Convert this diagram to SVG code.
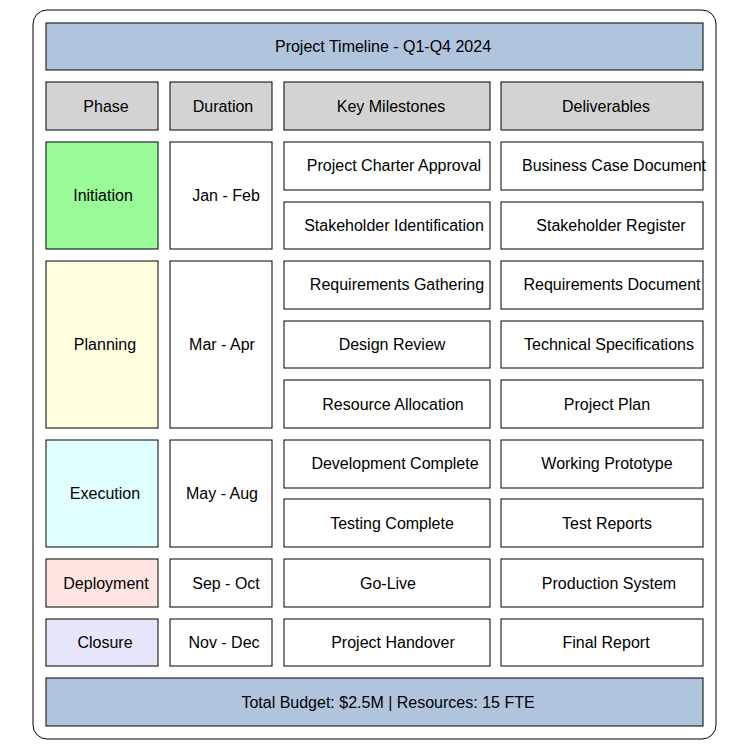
<svg xmlns="http://www.w3.org/2000/svg" width="750" height="750" viewBox="0 0 750 750">
<style>
rect{stroke:#000;stroke-width:1}
text{font-family:"Liberation Sans",Arial,sans-serif;font-size:16px;text-anchor:middle;dominant-baseline:central;fill:#000}
.w{fill:#fff}.h{fill:#d3d3d3}.b{fill:#b0c4de}
</style>
<rect x="33" y="10" width="683" height="729" rx="14" fill="#fff"/>
<g id="title"><rect class="b" x="46" y="23" width="657" height="47"/><text x="383" y="46">Project Timeline - Q1-Q4 2024</text></g>
<g id="headers">
<rect class="h" x="46" y="82" width="112" height="48"/><text x="106" y="106">Phase</text>
<rect class="h" x="170" y="82" width="102" height="48"/><text x="223" y="106">Duration</text>
<rect class="h" x="284" y="82" width="206" height="48"/><text x="391" y="106">Key Milestones</text>
<rect class="h" x="501" y="82" width="202" height="48"/><text x="606" y="106">Deliverables</text>
</g>
<g id="phases">
<rect x="46" y="142" width="112" height="107" fill="#98fb98"/><text x="103" y="195">Initiation</text>
<rect x="46" y="261" width="112" height="167" fill="#ffffe0"/><text x="105" y="344">Planning</text>
<rect x="46" y="440" width="112" height="107" fill="#e0ffff"/><text x="105" y="493">Execution</text>
<rect x="46" y="559" width="112" height="48" fill="#ffe4e1"/><text x="106" y="583">Deployment</text>
<rect x="46" y="619" width="112" height="47" fill="#e6e6fa"/><text x="105" y="642">Closure</text>
</g>
<g id="durations">
<rect class="w" x="170" y="142" width="102" height="107"/><text x="226" y="195">Jan - Feb</text>
<rect class="w" x="170" y="261" width="102" height="167"/><text x="222" y="344">Mar - Apr</text>
<rect class="w" x="170" y="440" width="102" height="107"/><text x="222" y="493">May - Aug</text>
<rect class="w" x="170" y="559" width="102" height="48"/><text x="226" y="583">Sep - Oct</text>
<rect class="w" x="170" y="619" width="102" height="47"/><text x="224" y="642">Nov - Dec</text>
</g>
<g id="milestones">
<rect class="w" x="284" y="142" width="206" height="48"/><text x="394" y="165">Project Charter Approval</text>
<rect class="w" x="284" y="202" width="206" height="47"/><text x="394" y="225">Stakeholder Identification</text>
<rect class="w" x="284" y="261" width="206" height="48"/><text x="397" y="284">Requirements Gathering</text>
<rect class="w" x="284" y="321" width="206" height="47"/><text x="392" y="344">Design Review</text>
<rect class="w" x="284" y="380" width="206" height="48"/><text x="393" y="404">Resource Allocation</text>
<rect class="w" x="284" y="440" width="206" height="48"/><text x="395" y="463">Development Complete</text>
<rect class="w" x="284" y="499" width="206" height="48"/><text x="392" y="523">Testing Complete</text>
<rect class="w" x="284" y="559" width="206" height="48"/><text x="388" y="583">Go-Live</text>
<rect class="w" x="284" y="619" width="206" height="47"/><text x="393" y="642">Project Handover</text>
</g>
<g id="deliverables">
<rect class="w" x="501" y="142" width="202" height="48"/><text x="614" y="165">Business Case Document</text>
<rect class="w" x="501" y="202" width="202" height="47"/><text x="611" y="225">Stakeholder Register</text>
<rect class="w" x="501" y="261" width="202" height="48"/><text x="612" y="284">Requirements Document</text>
<rect class="w" x="501" y="321" width="202" height="47"/><text x="609" y="344">Technical Specifications</text>
<rect class="w" x="501" y="380" width="202" height="48"/><text x="607" y="404">Project Plan</text>
<rect class="w" x="501" y="440" width="202" height="48"/><text x="607" y="463">Working Prototype</text>
<rect class="w" x="501" y="499" width="202" height="48"/><text x="607" y="523">Test Reports</text>
<rect class="w" x="501" y="559" width="202" height="48"/><text x="609" y="583">Production System</text>
<rect class="w" x="501" y="619" width="202" height="47"/><text x="606" y="642">Final Report</text>
</g>
<g id="footer"><rect class="b" x="46" y="678" width="657" height="48"/><text x="388" y="702">Total Budget: $2.5M | Resources: 15 FTE</text></g>
<g id="connectors"/>
</svg>
